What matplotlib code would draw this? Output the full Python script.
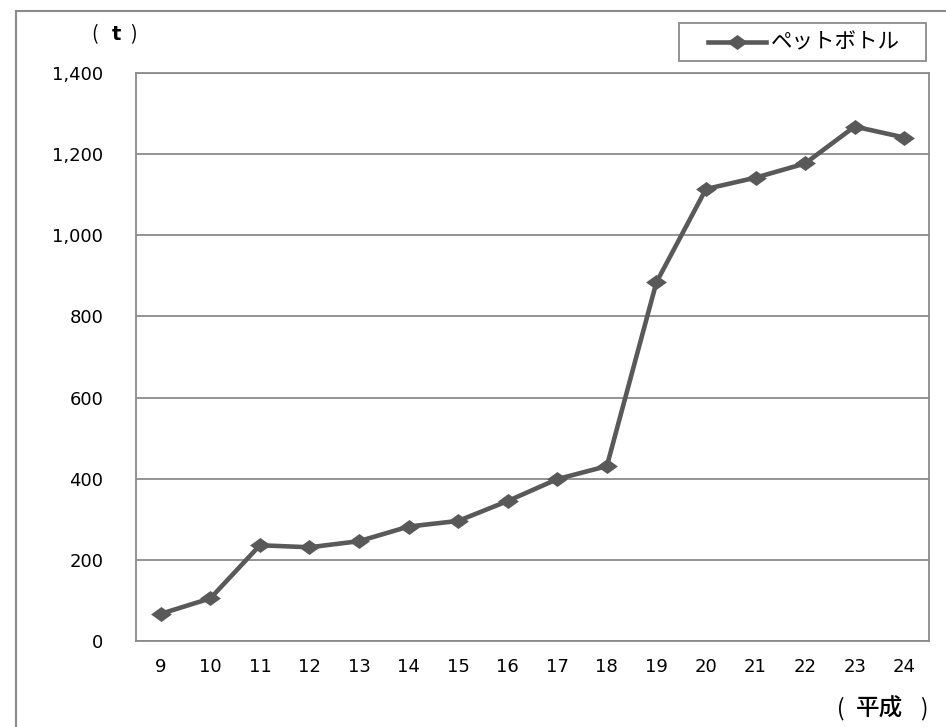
import matplotlib
matplotlib.use("Agg")
import matplotlib.pyplot as plt
from matplotlib.path import Path
from matplotlib.patches import Rectangle
from matplotlib.lines import Line2D
from matplotlib.ticker import FuncFormatter

plt.rcParams['font.family'] = ['DejaVu Sans', 'Noto Sans CJK JP']

years = ['9', '10', '11', '12', '13', '14', '15', '16', '17', '18', '19', '20', '21', '22', '23', '24']
values = [67, 105, 236, 231, 246, 282, 296, 345, 399, 431, 884, 1114, 1142, 1177, 1268, 1241]
series_name = 'ペットボトル'
yticks = [0, 200, 400, 600, 800, 1000, 1200, 1400]

W, H = 946, 727
GRAY = '#8a8a8a'
LINE = '#595959'
fig = plt.figure(figsize=(W / 100, H / 100), dpi=100)
ax = fig.add_axes([136 / W, 1 - 641 / H, (929 - 136) / W, (641 - 73) / H])

def fx(px):
    return px / W

def fy(py):
    return 1 - py / H

# outer border
fig.patches.append(Rectangle((fx(16), -0.1), 1.2, 1.1 - 11 / H,
                             transform=fig.transFigure, fill=False,
                             edgecolor=GRAY, linewidth=1.5, zorder=0))

diamond = Path([(-1, 0), (0, 0.72), (1, 0), (0, -0.72), (-1, 0)],
               [Path.MOVETO, Path.LINETO, Path.LINETO, Path.LINETO, Path.CLOSEPOLY])

x = list(range(len(years)))
ax.plot(x, values, color=LINE, linewidth=3.3, marker=diamond,
        markersize=15, markeredgewidth=0, markerfacecolor=LINE,
        label=series_name, zorder=3, solid_joinstyle='round')

ax.set_xlim(-0.5, len(years) - 0.5)
ax.set_ylim(0, 1400)
ax.set_yticks(yticks)
ax.yaxis.set_major_formatter(FuncFormatter(lambda v, p: f'{int(v):,}'))
ax.set_xticks(x)
ax.set_xticklabels(years)
ax.tick_params(axis='both', length=0, labelsize=13, colors='black')
ax.tick_params(axis='y', pad=23.5)
ax.tick_params(axis='x', pad=12.5)
ax.grid(axis='y', color=GRAY, linewidth=1.3)
ax.set_axisbelow(True)
for s in ax.spines.values():
    s.set_color(GRAY)
    s.set_linewidth(1.3)

# axis unit labels
cjk = ['Noto Sans CJK JP', 'DejaVu Sans']
fig.text(fx(94), fy(35), '(', ha='center', va='center', fontsize=14, family=cjk)
fig.text(fx(116), fy(34), 't', ha='center', va='center', fontsize=14,
         fontweight='bold', family=['DejaVu Sans'])
fig.text(fx(133), fy(35), ')', ha='center', va='center', fontsize=14, family=cjk)

fig.text(fx(841), fy(709), '(', ha='center', va='center', fontsize=16, family=cjk)
fig.text(fx(879), fy(709), '平成', ha='center', va='center', fontsize=17,
         fontweight='medium', family=cjk)
fig.text(fx(924), fy(709), ')', ha='center', va='center', fontsize=16, family=cjk)

# legend box
fig.patches.append(Rectangle((fx(679), fy(61)), fx(926) - fx(679), fy(23) - fy(61),
                             transform=fig.transFigure, facecolor='white',
                             edgecolor=GRAY, linewidth=1.3, zorder=5))
fig.lines.append(Line2D([fx(708), fx(766)], [fy(42), fy(42)], transform=fig.transFigure,
                        color=LINE, linewidth=3.3, zorder=6))
fig.lines.append(Line2D([fx(737)], [fy(42)], transform=fig.transFigure,
                        marker=diamond, markersize=15, markeredgewidth=0,
                        markerfacecolor=LINE, linestyle='none', zorder=7))
fig.text(fx(771), fy(42), series_name, ha='left', va='center', fontsize=15.5,
         family=cjk, zorder=7)

fig.savefig('out.png', dpi=100)
